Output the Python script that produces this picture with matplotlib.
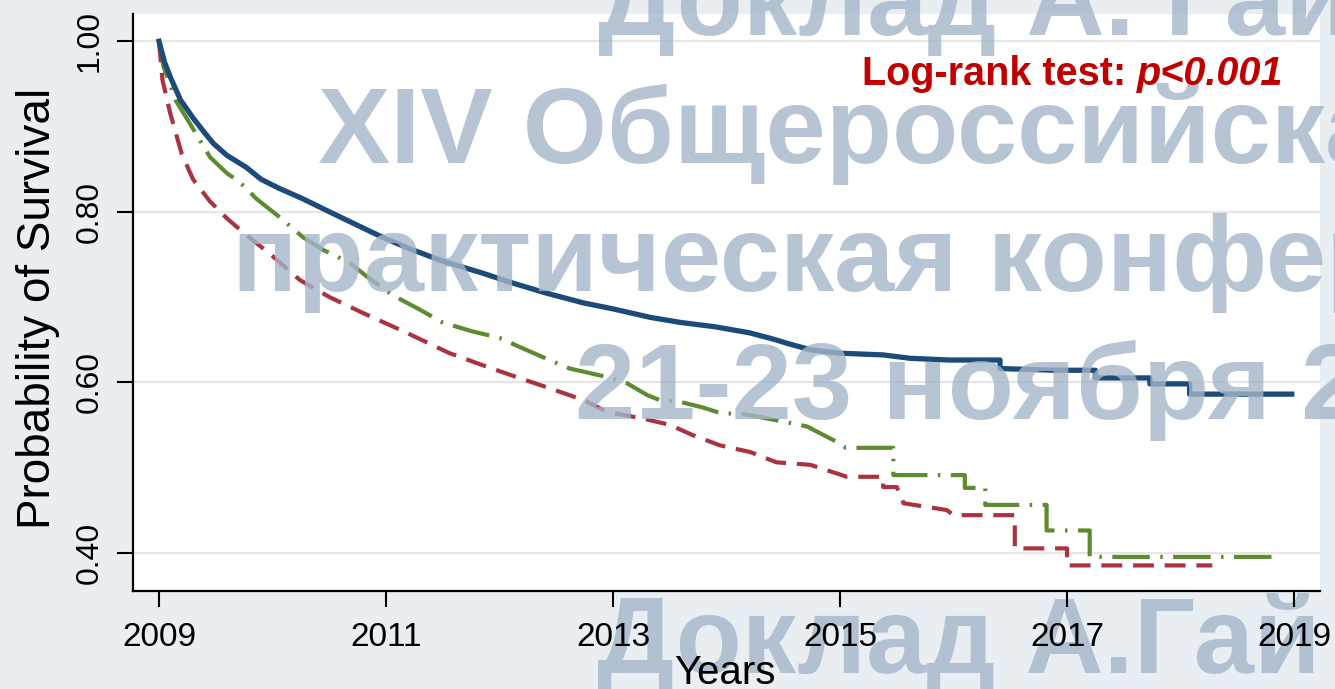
"""Kaplan-Meier survival curves, 2009-2019, three groups, with log-rank p-value."""
import matplotlib.pyplot as plt

# curve vertices (repeated time = vertical step)
blue_t = [2009.00, 2009.05, 2009.10, 2009.19, 2009.30, 2009.40, 2009.48, 2009.60, 2009.77,
          2009.90, 2010.05, 2010.27, 2010.50, 2010.75, 2010.97, 2011.20, 2011.50, 2011.85,
          2012.10, 2012.40, 2012.74, 2013.00, 2013.33, 2013.60, 2013.90, 2014.20, 2014.40,
          2014.55, 2014.74, 2015.00, 2015.38, 2015.62, 2015.97, 2016.41, 2016.41, 2016.90,
          2017.25, 2017.25, 2017.73, 2017.73, 2018.08, 2018.08, 2018.98]
blue_s = [1.000, 0.975, 0.958, 0.931, 0.910, 0.893, 0.880, 0.866, 0.852,
          0.838, 0.828, 0.815, 0.800, 0.784, 0.770, 0.757, 0.742, 0.728,
          0.717, 0.705, 0.693, 0.686, 0.676, 0.670, 0.665, 0.658, 0.651,
          0.645, 0.638, 0.634, 0.632, 0.628, 0.626, 0.626, 0.616, 0.614,
          0.614, 0.605, 0.605, 0.598, 0.598, 0.586, 0.586]

green_t = [2009.00, 2009.04, 2009.15, 2009.27, 2009.45, 2009.60, 2009.71, 2009.86, 2010.05,
           2010.27, 2010.45, 2010.68, 2010.85, 2011.06, 2011.30, 2011.50, 2011.75, 2012.00,
           2012.20, 2012.44, 2012.62, 2012.95, 2013.12, 2013.30, 2013.41, 2013.62, 2013.80,
           2013.94, 2014.18, 2014.53, 2014.71, 2015.00, 2015.05, 2015.47, 2015.47, 2016.10,
           2016.10, 2016.28, 2016.28, 2016.82, 2016.82, 2017.20, 2017.20, 2018.83]
green_s = [1.000, 0.970, 0.930, 0.904, 0.864, 0.845, 0.835, 0.815, 0.795,
           0.770, 0.755, 0.740, 0.722, 0.702, 0.685, 0.670, 0.660, 0.652,
           0.640, 0.626, 0.616, 0.606, 0.599, 0.585, 0.579, 0.576, 0.570,
           0.564, 0.562, 0.553, 0.548, 0.528, 0.523, 0.523, 0.491, 0.491,
           0.476, 0.476, 0.456, 0.456, 0.426, 0.426, 0.395, 0.395]

red_t = [2009.00, 2009.03, 2009.10, 2009.20, 2009.30, 2009.45, 2009.60, 2009.74, 2010.00,
         2010.24, 2010.50, 2010.80, 2011.15, 2011.56, 2011.85, 2012.15, 2012.44, 2012.74,
         2012.95, 2013.24, 2013.50, 2013.70, 2013.94, 2014.21, 2014.44, 2014.74, 2014.97,
         2015.06, 2015.38, 2015.38, 2015.50, 2015.56, 2015.94, 2016.00, 2016.54, 2016.54,
         2017.00, 2017.00, 2018.28]
red_s = [1.000, 0.955, 0.915, 0.868, 0.838, 0.812, 0.792, 0.776, 0.748,
         0.720, 0.700, 0.681, 0.660, 0.634, 0.620, 0.606, 0.593, 0.579,
         0.565, 0.558, 0.550, 0.538, 0.526, 0.518, 0.506, 0.503, 0.493,
         0.489, 0.489, 0.477, 0.477, 0.458, 0.450, 0.444, 0.444, 0.405,
         0.405, 0.385, 0.385]

x_ticks = [2009, 2011, 2013, 2015, 2017, 2019]
y_ticks = [0.40, 0.60, 0.80, 1.00]

# overlay text lines of the slide: (text, left px, baseline px)
watermark = [
    ('Доклад А. Гай', 598, 35),
    ('XIV Общероссийская', 318, 163),
    ('практическая конференция', 232, 291),
    ('21-23 ноября 2019', 575, 419),
    ('Доклад А.Гай', 597, 673),
]

W, H = 1335, 689
BG = '#e9eef2'
RECT = [133 / W, 1 - 591 / H, (1320 - 133) / W, (591 - 14) / H]
XLIM = (2008.771, 2019.229)
YLIM = (0.355, 1.032)


def main():
    plt.rcParams['font.family'] = ['Liberation Sans', 'DejaVu Sans']
    fig = plt.figure(figsize=(W / 100, H / 100), dpi=100, facecolor=BG)

    # bottom layer: white panel, grid and curves
    ax = fig.add_axes(RECT, zorder=1)
    ax.set_facecolor('white')
    ax.plot(blue_t, blue_s, color='#1d4b79', lw=3.8, solid_joinstyle='round', zorder=4)
    ax.plot(green_t, green_s, color='#5e8b30', lw=3.0,
            dashes=(9, 2.5, 0.6, 2.5), zorder=3)
    ax.plot(red_t, red_s, color='#a93340', lw=3.0, dashes=(5, 2.6), zorder=3)
    ax.set_xlim(*XLIM)
    ax.set_ylim(*YLIM)
    ax.set_xticks(x_ticks)
    ax.set_yticks(y_ticks)
    ax.tick_params(length=0, labelbottom=False, labelleft=False)
    ax.grid(axis='y', color='#e6e6e6', lw=1.6)
    ax.set_axisbelow(True)
    for sp in ax.spines.values():
        sp.set_visible(False)

    # watermark sits between the curves and the axis texts
    for text, px, py in watermark:
        fig.text(px / W, 1 - py / H, text, fontsize=78, fontweight='bold',
                 color='#a5b6ca', alpha=0.8, ha='left', va='baseline', zorder=2)

    # top layer: spines, ticks, labels, annotation
    top = fig.add_axes(RECT, zorder=3)
    top.patch.set_visible(False)
    top.set_xlim(*XLIM)
    top.set_ylim(*YLIM)
    top.set_xticks(x_ticks)
    top.set_yticks(y_ticks)
    top.set_yticklabels([f'{v:.2f}' for v in y_ticks], rotation=90, va='center')
    top.tick_params(axis='both', direction='out', length=11.5, width=1.5, colors='black')
    top.tick_params(axis='x', labelsize=24, pad=11)
    top.tick_params(axis='y', labelsize=23, pad=9)
    for side in ('top', 'right'):
        top.spines[side].set_visible(False)
    for side in ('left', 'bottom'):
        top.spines[side].set_linewidth(1.6)
        top.spines[side].set_color('black')

    top.set_xlabel('Years', fontsize=29, va='baseline')
    top.xaxis.set_label_coords(0.4987, -0.161)
    top.set_ylabel('Probability of Survival', fontsize=33, va='center')
    top.yaxis.set_label_coords(-0.080, 0.489)

    t1 = top.text(0.614, 0.877, 'Log-rank test:', transform=top.transAxes, fontsize=28.5,
                  fontweight='bold', color='#c00000', va='baseline', ha='left')
    top.annotate('p<0.001', xy=(1, 0), xycoords=t1, xytext=(8, 0), textcoords='offset points',
                 fontsize=28.5, fontweight='bold', fontstyle='italic', color='#c00000',
                 va='bottom', ha='left')

    fig.savefig('out.png', dpi=100, facecolor=BG)
    plt.close(fig)


if __name__ == '__main__':
    main()
